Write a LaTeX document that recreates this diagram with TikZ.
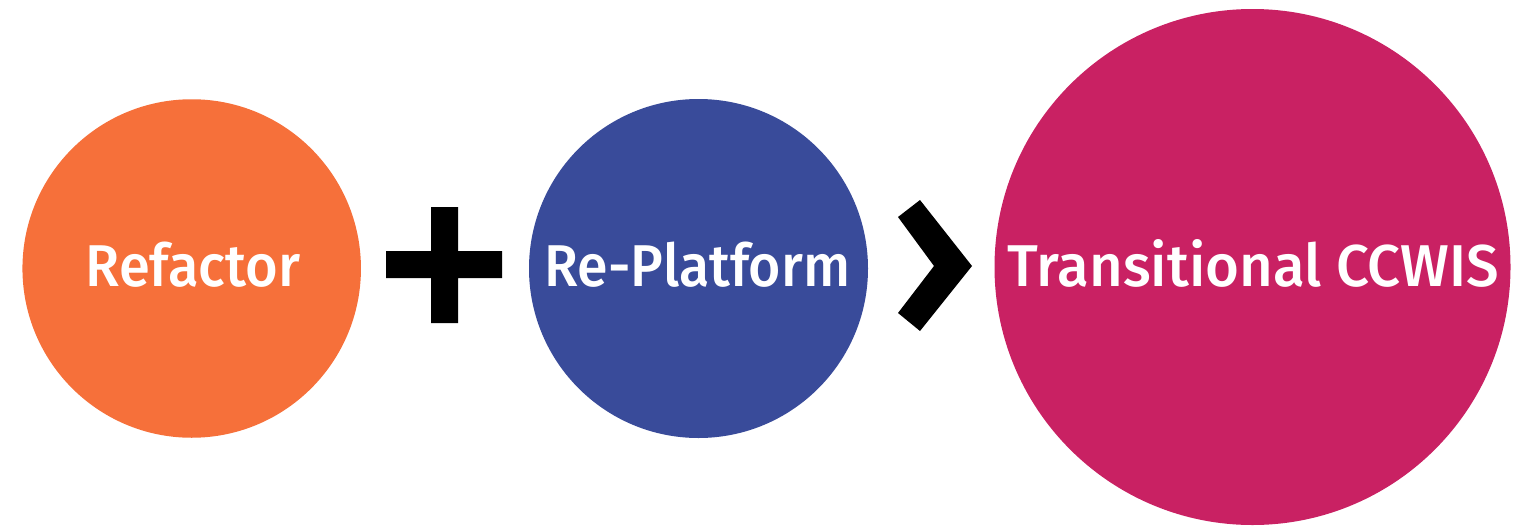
\documentclass[tikz,border=0pt]{standalone}
\usepackage{graphicx}
\usepackage{fontspec}
\setmainfont{Fira Sans Medium}
\definecolor{orangec}{HTML}{F6703A}
\definecolor{bluec}{HTML}{394B9A}
\definecolor{redc}{HTML}{C92163}
\tikzset{x=1pt,y=-1pt,
 lab/.style={font=\fontsize{59}{64}\selectfont,text=white,inner sep=0pt,anchor=base},
 disc/.style={circle,inner sep=0pt,minimum size=#1,draw=none}}
\begin{document}
\begin{tikzpicture}
\useasboundingbox (0,0) rectangle (1515,525);
\node[disc=338.5pt,fill=orangec] (a) at (191.7,268.5) {};
\node[disc=339pt,fill=bluec] (b) at (698.5,268.5) {};
\node[disc=516pt,fill=redc] (c) at (1252.5,267) {};
\node[lab] (ta) at (193,286) {\scalebox{0.95}[1]{Refactor}};
\node[lab] (tb) at (697.5,286) {\scalebox{0.94}[1]{Re-Platform}};
\node[lab] (tc) at (1253.5,286) {\scalebox{0.985}[1]{Transitional CCWIS}};
\fill (431,207) -- (458,207) -- (458,251) -- (502,251) -- (502,278) -- (458,278) -- (458,323) -- (431,323) -- (431,278) -- (386,278) -- (386,251) -- (431,251) -- cycle;
\fill (898,217) -- (920,200) -- (972,266) -- (920,331) -- (898,313) -- (934,266) -- cycle;
\end{tikzpicture}
\end{document}
